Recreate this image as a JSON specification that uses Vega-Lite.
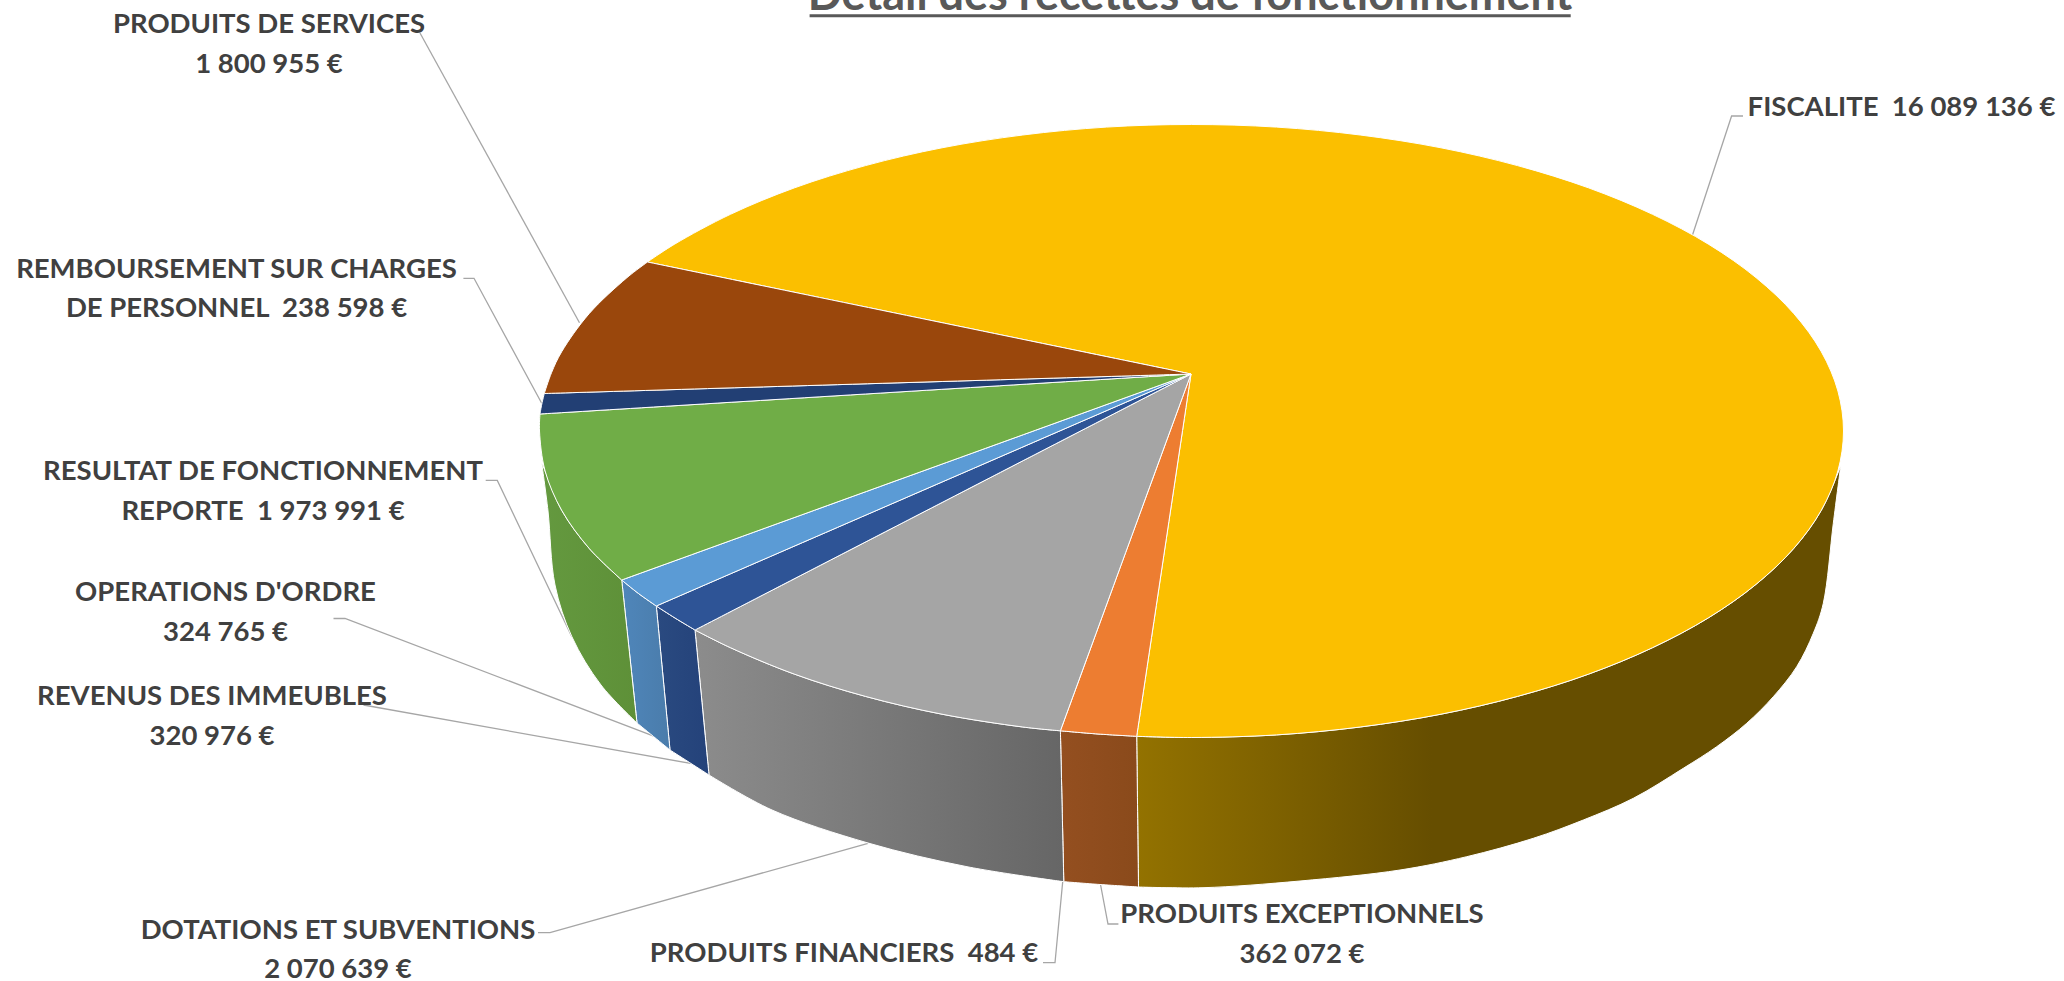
{"$schema":"https://vega.github.io/schema/vega-lite/v6.json","width":2064,"height":981,"padding":0,"autosize":{"type":"none"},"background":"white","view":{"stroke":null},
"datasets":{
"dessus":[
{"poste":"Fiscalite","ordre":0,"x":1191,"y":374},{"poste":"Fiscalite","ordre":1,"x":647.5,"y":262},{"poste":"Fiscalite","ordre":1.5,"x":647.5,"y":262},{"poste":"Fiscalite","ordre":2,"x":674.2,"y":244.4},{"poste":"Fiscalite","ordre":3,"x":730.5,"y":214.3},{"poste":"Fiscalite","ordre":4,"x":794.6,"y":187.8},{"poste":"Fiscalite","ordre":5,"x":865.5,"y":165.6},{"poste":"Fiscalite","ordre":6,"x":942,"y":147.8},{"poste":"Fiscalite","ordre":7,"x":1022.8,"y":135},{"poste":"Fiscalite","ordre":8,"x":1106.4,"y":127.1},{"poste":"Fiscalite","ordre":9,"x":1191.5,"y":124.5},{"poste":"Fiscalite","ordre":10,"x":1276.6,"y":127.1},{"poste":"Fiscalite","ordre":11,"x":1360.2,"y":135},{"poste":"Fiscalite","ordre":12,"x":1441,"y":147.8},{"poste":"Fiscalite","ordre":13,"x":1517.5,"y":165.6},{"poste":"Fiscalite","ordre":14,"x":1588.4,"y":187.8},{"poste":"Fiscalite","ordre":15,"x":1652.5,"y":214.3},{"poste":"Fiscalite","ordre":16,"x":1708.8,"y":244.4},{"poste":"Fiscalite","ordre":17,"x":1756.1,"y":277.7},{"poste":"Fiscalite","ordre":18,"x":1793.9,"y":313.7},{"poste":"Fiscalite","ordre":19,"x":1821.3,"y":351.7},{"poste":"Fiscalite","ordre":20,"x":1837.9,"y":391},{"poste":"Fiscalite","ordre":21,"x":1843.5,"y":431},{"poste":"Fiscalite","ordre":22,"x":1837.9,"y":471},{"poste":"Fiscalite","ordre":23,"x":1821.3,"y":510.3},{"poste":"Fiscalite","ordre":24,"x":1793.9,"y":548.3},{"poste":"Fiscalite","ordre":25,"x":1756.1,"y":584.3},{"poste":"Fiscalite","ordre":26,"x":1708.8,"y":617.6},{"poste":"Fiscalite","ordre":27,"x":1652.5,"y":647.7},{"poste":"Fiscalite","ordre":28,"x":1588.4,"y":674.2},{"poste":"Fiscalite","ordre":29,"x":1517.5,"y":696.4},{"poste":"Fiscalite","ordre":30,"x":1441,"y":714.2},{"poste":"Fiscalite","ordre":31,"x":1360.2,"y":727},{"poste":"Fiscalite","ordre":32,"x":1276.6,"y":734.9},{"poste":"Fiscalite","ordre":33,"x":1191.5,"y":737.5},{"poste":"Fiscalite","ordre":34,"x":1136.7,"y":736.3},{"poste":"Fiscalite","ordre":34.5,"x":1136.7,"y":736.3},{"poste":"Fiscalite","ordre":35,"x":1191,"y":374},
{"poste":"Exceptionnels","ordre":0,"x":1191,"y":374},{"poste":"Exceptionnels","ordre":1,"x":1136.7,"y":736.3},{"poste":"Exceptionnels","ordre":1.5,"x":1136.7,"y":736.3},{"poste":"Exceptionnels","ordre":2,"x":1098,"y":734},{"poste":"Exceptionnels","ordre":3,"x":1060.4,"y":730.8},{"poste":"Exceptionnels","ordre":3.5,"x":1060.4,"y":730.8},{"poste":"Exceptionnels","ordre":4,"x":1191,"y":374},
{"poste":"Dotations","ordre":0,"x":1191,"y":374},{"poste":"Dotations","ordre":1,"x":1060.4,"y":730.8},{"poste":"Dotations","ordre":1.5,"x":1060.4,"y":730.8},{"poste":"Dotations","ordre":2,"x":1022.8,"y":727},{"poste":"Dotations","ordre":3,"x":942,"y":714.2},{"poste":"Dotations","ordre":4,"x":865.5,"y":696.4},{"poste":"Dotations","ordre":5,"x":794.6,"y":674.2},{"poste":"Dotations","ordre":6,"x":730.5,"y":647.7},{"poste":"Dotations","ordre":7,"x":695,"y":630},{"poste":"Dotations","ordre":7.5,"x":695,"y":630},{"poste":"Dotations","ordre":8,"x":1191,"y":374},
{"poste":"Immeubles","ordre":0,"x":1191,"y":374},{"poste":"Immeubles","ordre":1,"x":695,"y":630},{"poste":"Immeubles","ordre":1.5,"x":695,"y":630},{"poste":"Immeubles","ordre":2,"x":675,"y":618},{"poste":"Immeubles","ordre":3,"x":656.3,"y":606},{"poste":"Immeubles","ordre":3.5,"x":656.3,"y":606},{"poste":"Immeubles","ordre":4,"x":1191,"y":374},
{"poste":"Ordre","ordre":0,"x":1191,"y":374},{"poste":"Ordre","ordre":1,"x":656.3,"y":606},{"poste":"Ordre","ordre":1.5,"x":656.3,"y":606},{"poste":"Ordre","ordre":2,"x":638.5,"y":593.5},{"poste":"Ordre","ordre":3,"x":621.7,"y":580},{"poste":"Ordre","ordre":3.5,"x":621.7,"y":580},{"poste":"Ordre","ordre":4,"x":1191,"y":374},
{"poste":"Resultat","ordre":0,"x":1191,"y":374},{"poste":"Resultat","ordre":1,"x":621.7,"y":580},{"poste":"Resultat","ordre":1.5,"x":621.7,"y":580},{"poste":"Resultat","ordre":2,"x":589.1,"y":548.3},{"poste":"Resultat","ordre":3,"x":561.7,"y":510.3},{"poste":"Resultat","ordre":4,"x":545.1,"y":471},{"poste":"Resultat","ordre":5,"x":539.5,"y":431},{"poste":"Resultat","ordre":6,"x":540,"y":414},{"poste":"Resultat","ordre":6.5,"x":540,"y":414},{"poste":"Resultat","ordre":7,"x":1191,"y":374},
{"poste":"Remboursement","ordre":0,"x":1191,"y":374},{"poste":"Remboursement","ordre":1,"x":540,"y":414},{"poste":"Remboursement","ordre":1.5,"x":540,"y":414},{"poste":"Remboursement","ordre":2,"x":541.8,"y":404},{"poste":"Remboursement","ordre":3,"x":544.3,"y":393.5},{"poste":"Remboursement","ordre":3.5,"x":544.3,"y":393.5},{"poste":"Remboursement","ordre":4,"x":1191,"y":374},
{"poste":"Services","ordre":0,"x":1191,"y":374},{"poste":"Services","ordre":1,"x":544.3,"y":393.5},{"poste":"Services","ordre":1.5,"x":544.3,"y":393.5},{"poste":"Services","ordre":1.7,"x":551.5,"y":372.7},{"poste":"Services","ordre":2,"x":561.7,"y":351.7},{"poste":"Services","ordre":3,"x":589.1,"y":313.7},{"poste":"Services","ordre":4,"x":626.9,"y":277.7},{"poste":"Services","ordre":5,"x":647.5,"y":262},{"poste":"Services","ordre":5.5,"x":647.5,"y":262},{"poste":"Services","ordre":6,"x":1191,"y":374}
],
"cote":[
{"poste":"Fiscalite","ordre":0,"x":1136.7,"y":736.3},{"poste":"Fiscalite","ordre":1,"x":1191.5,"y":737.5},{"poste":"Fiscalite","ordre":2,"x":1276.6,"y":734.9},{"poste":"Fiscalite","ordre":3,"x":1360.2,"y":727},{"poste":"Fiscalite","ordre":4,"x":1441,"y":714.2},{"poste":"Fiscalite","ordre":5,"x":1517.5,"y":696.4},{"poste":"Fiscalite","ordre":6,"x":1588.4,"y":674.2},{"poste":"Fiscalite","ordre":7,"x":1652.5,"y":647.7},{"poste":"Fiscalite","ordre":8,"x":1708.8,"y":617.6},{"poste":"Fiscalite","ordre":9,"x":1756.1,"y":584.3},{"poste":"Fiscalite","ordre":10,"x":1793.9,"y":548.3},{"poste":"Fiscalite","ordre":11,"x":1821.3,"y":510.3},{"poste":"Fiscalite","ordre":12,"x":1840.7,"y":466},{"poste":"Fiscalite","ordre":12.5,"x":1840.7,"y":466},{"poste":"Fiscalite","ordre":13,"x":1833.3,"y":523.3},{"poste":"Fiscalite","ordre":14,"x":1823.3,"y":603.3},{"poste":"Fiscalite","ordre":15,"x":1813.3,"y":633.3},{"poste":"Fiscalite","ordre":16,"x":1796.7,"y":666.7},{"poste":"Fiscalite","ordre":17,"x":1773.3,"y":696.7},{"poste":"Fiscalite","ordre":18,"x":1746.7,"y":723.3},{"poste":"Fiscalite","ordre":19,"x":1716.7,"y":746.7},{"poste":"Fiscalite","ordre":20,"x":1683.3,"y":768.3},{"poste":"Fiscalite","ordre":21,"x":1633.3,"y":798.3},{"poste":"Fiscalite","ordre":22,"x":1583.3,"y":820},{"poste":"Fiscalite","ordre":23,"x":1533.3,"y":838.3},{"poste":"Fiscalite","ordre":24,"x":1466.7,"y":856.7},{"poste":"Fiscalite","ordre":25,"x":1400,"y":870},{"poste":"Fiscalite","ordre":26,"x":1300,"y":881},{"poste":"Fiscalite","ordre":27,"x":1203,"y":887.7},{"poste":"Fiscalite","ordre":28,"x":1138.5,"y":887},{"poste":"Fiscalite","ordre":28.5,"x":1138.5,"y":887},{"poste":"Fiscalite","ordre":29,"x":1136.7,"y":736.3},
{"poste":"Exceptionnels","ordre":0,"x":1060.4,"y":730.8},{"poste":"Exceptionnels","ordre":1,"x":1098,"y":734},{"poste":"Exceptionnels","ordre":2,"x":1136.7,"y":736.3},{"poste":"Exceptionnels","ordre":2.5,"x":1136.7,"y":736.3},{"poste":"Exceptionnels","ordre":3,"x":1138.5,"y":887},{"poste":"Exceptionnels","ordre":3.5,"x":1138.5,"y":887},{"poste":"Exceptionnels","ordre":4,"x":1100,"y":884.5},{"poste":"Exceptionnels","ordre":5,"x":1063.8,"y":881.7},{"poste":"Exceptionnels","ordre":5.5,"x":1063.8,"y":881.7},{"poste":"Exceptionnels","ordre":6,"x":1060.4,"y":730.8},
{"poste":"Dotations","ordre":0,"x":695,"y":630},{"poste":"Dotations","ordre":1,"x":730.5,"y":647.7},{"poste":"Dotations","ordre":2,"x":794.6,"y":674.2},{"poste":"Dotations","ordre":3,"x":865.5,"y":696.4},{"poste":"Dotations","ordre":4,"x":942,"y":714.2},{"poste":"Dotations","ordre":5,"x":1022.8,"y":727},{"poste":"Dotations","ordre":6,"x":1060.4,"y":730.8},{"poste":"Dotations","ordre":6.5,"x":1060.4,"y":730.8},{"poste":"Dotations","ordre":7,"x":1063.8,"y":881.7},{"poste":"Dotations","ordre":7.5,"x":1063.8,"y":881.7},{"poste":"Dotations","ordre":8,"x":967,"y":866.7},{"poste":"Dotations","ordre":9,"x":868,"y":843},{"poste":"Dotations","ordre":10,"x":772,"y":810},{"poste":"Dotations","ordre":11,"x":709,"y":775},{"poste":"Dotations","ordre":11.5,"x":709,"y":775},{"poste":"Dotations","ordre":12,"x":695,"y":630},
{"poste":"Immeubles","ordre":0,"x":656.3,"y":606},{"poste":"Immeubles","ordre":1,"x":675,"y":618},{"poste":"Immeubles","ordre":2,"x":695,"y":630},{"poste":"Immeubles","ordre":2.5,"x":695,"y":630},{"poste":"Immeubles","ordre":3,"x":709,"y":775},{"poste":"Immeubles","ordre":3.5,"x":709,"y":775},{"poste":"Immeubles","ordre":4,"x":670,"y":750},{"poste":"Immeubles","ordre":4.5,"x":670,"y":750},{"poste":"Immeubles","ordre":5,"x":656.3,"y":606},
{"poste":"Ordre","ordre":0,"x":621.7,"y":580},{"poste":"Ordre","ordre":1,"x":638.5,"y":593.5},{"poste":"Ordre","ordre":2,"x":656.3,"y":606},{"poste":"Ordre","ordre":2.5,"x":656.3,"y":606},{"poste":"Ordre","ordre":3,"x":670,"y":750},{"poste":"Ordre","ordre":3.5,"x":670,"y":750},{"poste":"Ordre","ordre":4,"x":637,"y":723},{"poste":"Ordre","ordre":4.5,"x":637,"y":723},{"poste":"Ordre","ordre":5,"x":621.7,"y":580},
{"poste":"Resultat","ordre":0,"x":541.7,"y":463},{"poste":"Resultat","ordre":1,"x":545.1,"y":471},{"poste":"Resultat","ordre":2,"x":561.7,"y":510.3},{"poste":"Resultat","ordre":3,"x":589.1,"y":548.3},{"poste":"Resultat","ordre":4,"x":621.7,"y":580},{"poste":"Resultat","ordre":4.5,"x":621.7,"y":580},{"poste":"Resultat","ordre":5,"x":637,"y":723},{"poste":"Resultat","ordre":5.5,"x":637,"y":723},{"poste":"Resultat","ordre":6,"x":601,"y":685},{"poste":"Resultat","ordre":7,"x":572,"y":637},{"poste":"Resultat","ordre":8,"x":555,"y":585},{"poste":"Resultat","ordre":9,"x":548,"y":511},{"poste":"Resultat","ordre":9.5,"x":541.7,"y":463},{"poste":"Resultat","ordre":10,"x":541.7,"y":463}
],
"renvois":[
{"poste":"Fiscalite","ordre":0,"x":1692.5,"y":235},{"poste":"Fiscalite","ordre":1,"x":1731.6,"y":116},{"poste":"Fiscalite","ordre":2,"x":1743,"y":116},
{"poste":"Services","ordre":0,"x":420,"y":33},{"poste":"Services","ordre":1,"x":579.5,"y":322.7},
{"poste":"Remboursement","ordre":0,"x":463.4,"y":278.3},{"poste":"Remboursement","ordre":1,"x":474,"y":278.3},{"poste":"Remboursement","ordre":2,"x":541.7,"y":403.3},
{"poste":"Resultat","ordre":0,"x":485.7,"y":480.4},{"poste":"Resultat","ordre":1,"x":497.3,"y":480.4},{"poste":"Resultat","ordre":2,"x":572,"y":637},
{"poste":"Ordre","ordre":0,"x":333.5,"y":618.5},{"poste":"Ordre","ordre":1,"x":345,"y":618.5},{"poste":"Ordre","ordre":2,"x":654.4,"y":736.3},
{"poste":"Immeubles","ordre":0,"x":363.5,"y":705},{"poste":"Immeubles","ordre":1,"x":692,"y":763.7},
{"poste":"Dotations","ordre":0,"x":538,"y":932.6},{"poste":"Dotations","ordre":1,"x":550,"y":932.6},{"poste":"Dotations","ordre":2,"x":868,"y":843.3},
{"poste":"Financiers","ordre":0,"x":1062.7,"y":881.7},{"poste":"Financiers","ordre":1,"x":1055,"y":962.7},{"poste":"Financiers","ordre":2,"x":1043,"y":962.7},
{"poste":"Exceptionnels","ordre":0,"x":1100.6,"y":885},{"poste":"Exceptionnels","ordre":1,"x":1108,"y":924},{"poste":"Exceptionnels","ordre":2,"x":1118.4,"y":924}
],
"soulignement":[{"ordre":0,"x":809.6,"y":15.7},{"ordre":1,"x":1570.7,"y":15.7}],
"titre":[{"texte":"Détail des recettes de fonctionnement","x":1190,"y":10}],
"libelles":[
{"texte":"FISCALITE \u00a016 089 136 €","x":1901.5,"y":115.7},
{"texte":"PRODUITS DE SERVICES","x":269,"y":33},{"texte":"1 800 955 €","x":269,"y":72.7},
{"texte":"REMBOURSEMENT SUR CHARGES","x":236.5,"y":278},{"texte":"DE PERSONNEL \u00a0238 598 €","x":236.5,"y":317},
{"texte":"RESULTAT DE FONCTIONNEMENT","x":263,"y":480.4},{"texte":"REPORTE \u00a01 973 991 €","x":263,"y":519.6},
{"texte":"OPERATIONS D'ORDRE","x":225.5,"y":601},{"texte":"324 765 €","x":225.5,"y":640.7},
{"texte":"REVENUS DES IMMEUBLES","x":212,"y":705},{"texte":"320 976 €","x":212,"y":745},
{"texte":"DOTATIONS ET SUBVENTIONS","x":338,"y":939},{"texte":"2 070 639 €","x":338,"y":977.8},
{"texte":"PRODUITS FINANCIERS \u00a0484 €","x":844,"y":962.3},
{"texte":"PRODUITS EXCEPTIONNELS","x":1302,"y":923.3},{"texte":"362 072 €","x":1302,"y":963.3}
]},
"encoding":{
"x":{"field":"x","type":"quantitative","axis":null,"scale":{"domain":[0,2064],"nice":false,"zero":false}},
"y":{"field":"y","type":"quantitative","axis":null,"scale":{"domain":[0,981],"nice":false,"zero":false,"reverse":true}}
},
"layer":[
{"data":{"name":"renvois"},"mark":{"type":"line","stroke":"#a6a6a6","strokeWidth":1.3},"encoding":{"detail":{"field":"poste"},"order":{"field":"ordre","type":"quantitative"}}},
{"data":{"name":"cote"},"transform":[{"filter":{"field":"poste","equal":"Fiscalite"}}],"mark":{"type":"line","interpolate":"catmull-rom","stroke":"white","strokeWidth":1,"fill":{"gradient":"linear","x1":0,"x2":1,"y1":0,"y2":0,"stops":[{"offset":0,"color":"#937200"},{"offset":0.42,"color":"#664e00"},{"offset":1,"color":"#664e00"}]}},"encoding":{"order":{"field":"ordre","type":"quantitative"}}},
{"data":{"name":"cote"},"transform":[{"filter":{"field":"poste","equal":"Exceptionnels"}}],"mark":{"type":"line","interpolate":"catmull-rom","stroke":"white","strokeWidth":1,"fill":{"gradient":"linear","x1":0,"x2":1,"y1":0,"y2":0,"stops":[{"offset":0,"color":"#944f20"},{"offset":1,"color":"#8a4a1b"}]}},"encoding":{"order":{"field":"ordre","type":"quantitative"}}},
{"data":{"name":"cote"},"transform":[{"filter":{"field":"poste","equal":"Dotations"}}],"mark":{"type":"line","interpolate":"catmull-rom","stroke":"white","strokeWidth":1,"fill":{"gradient":"linear","x1":0,"x2":1,"y1":0,"y2":0,"stops":[{"offset":0,"color":"#8c8c8c"},{"offset":1,"color":"#666666"}]}},"encoding":{"order":{"field":"ordre","type":"quantitative"}}},
{"data":{"name":"cote"},"transform":[{"filter":{"field":"poste","equal":"Immeubles"}}],"mark":{"type":"line","interpolate":"catmull-rom","stroke":"white","strokeWidth":1,"fill":{"gradient":"linear","x1":0,"x2":1,"y1":0,"y2":0,"stops":[{"offset":0,"color":"#2a4a80"},{"offset":1,"color":"#24427a"}]}},"encoding":{"order":{"field":"ordre","type":"quantitative"}}},
{"data":{"name":"cote"},"transform":[{"filter":{"field":"poste","equal":"Ordre"}}],"mark":{"type":"line","interpolate":"catmull-rom","stroke":"white","strokeWidth":1,"fill":{"gradient":"linear","x1":0,"x2":1,"y1":0,"y2":0,"stops":[{"offset":0,"color":"#4f86ba"},{"offset":1,"color":"#4a7cab"}]}},"encoding":{"order":{"field":"ordre","type":"quantitative"}}},
{"data":{"name":"cote"},"transform":[{"filter":{"field":"poste","equal":"Resultat"}}],"mark":{"type":"line","interpolate":"catmull-rom","stroke":"white","strokeWidth":1,"fill":{"gradient":"linear","x1":0,"x2":1,"y1":0,"y2":0,"stops":[{"offset":0,"color":"#64993f"},{"offset":1,"color":"#5e9038"}]}},"encoding":{"order":{"field":"ordre","type":"quantitative"}}},
{"data":{"name":"dessus"},"mark":{"type":"line","interpolate":"catmull-rom","stroke":"white","strokeWidth":1},"encoding":{"fill":{"field":"poste","type":"nominal","legend":null,"scale":{"domain":["Fiscalite","Exceptionnels","Dotations","Immeubles","Ordre","Resultat","Remboursement","Services"],"range":["#fbbf00","#ed7d31","#a5a5a5","#2e5496","#5b9bd5","#70ad47","#223f74","#9a470c"]}},"detail":{"field":"poste"},"order":{"field":"ordre","type":"quantitative"}}},
{"data":{"name":"soulignement"},"mark":{"type":"line","stroke":"#595959","strokeWidth":3},"encoding":{"order":{"field":"ordre","type":"quantitative"}}},
{"data":{"name":"titre"},"mark":{"type":"text","font":"Lato","fontWeight":"bold","fontSize":45,"fill":"#595959","align":"center","baseline":"alphabetic"},"encoding":{"text":{"field":"texte"}}},
{"data":{"name":"libelles"},"mark":{"type":"text","font":"Lato","fontWeight":"bold","fontSize":27.5,"fill":"#404040","align":"center","baseline":"alphabetic"},"encoding":{"text":{"field":"texte"}}}
]}
